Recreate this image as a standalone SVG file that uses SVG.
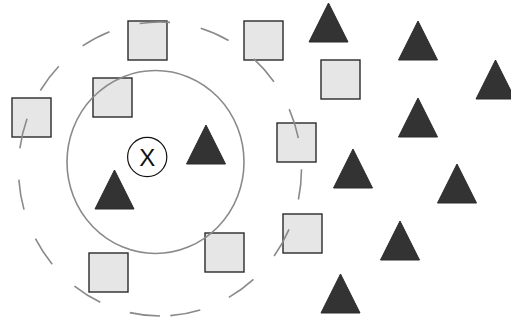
<svg xmlns="http://www.w3.org/2000/svg" width="511" height="320" viewBox="0 0 511 320">
<style>
.sq{fill:#e6e6e6;stroke:#2a2a2a;stroke-width:1.4}
.tri{fill:#333333;stroke:#2a2a2a;stroke-width:1}
.ring{fill:none;stroke:#8a8a8a;stroke-width:1.6}
.dash{stroke-dasharray:30.5 31.3}
.query{fill:#ffffff;stroke:#111111;stroke-width:1.2}
.lbl{font-family:"Liberation Sans",Arial,sans-serif;font-size:24px;fill:#111111;text-anchor:middle}
</style>
<rect width="511" height="320" fill="#ffffff"/>
<g id="squares">
<g id="sq1"><rect class="sq" x="128" y="21" width="39" height="39"/></g>
<g id="sq2"><rect class="sq" x="244" y="21" width="39" height="39"/></g>
<g id="sq3"><rect class="sq" x="93" y="78" width="39" height="39"/></g>
<g id="sq4"><rect class="sq" x="12" y="98" width="39" height="39"/></g>
<g id="sq5"><rect class="sq" x="321" y="60" width="39" height="39"/></g>
<g id="sq6"><rect class="sq" x="277" y="123" width="39" height="39"/></g>
<g id="sq7"><rect class="sq" x="283" y="214" width="39" height="39"/></g>
<g id="sq8"><rect class="sq" x="205" y="233" width="39" height="39"/></g>
<g id="sq9"><rect class="sq" x="89" y="253" width="39" height="39"/></g>
</g>
<g id="triangles">
<g id="tri1"><polygon class="tri" points="328.5,3 348,42 309,42"/></g>
<g id="tri2"><polygon class="tri" points="418,21 437.5,60 398.5,60"/></g>
<g id="tri3"><polygon class="tri" points="495.5,60 515,99 476,99"/></g>
<g id="tri4"><polygon class="tri" points="418,98 437.5,137 398.5,137"/></g>
<g id="tri5"><polygon class="tri" points="353,149 372.5,188 333.5,188"/></g>
<g id="tri6"><polygon class="tri" points="457,164 476.5,203 437.5,203"/></g>
<g id="tri7"><polygon class="tri" points="400,221 419.5,260 380.5,260"/></g>
<g id="tri8"><polygon class="tri" points="340.5,274 360,313 321,313"/></g>
<g id="tri9"><polygon class="tri" points="206,125 225.5,164 186.5,164"/></g>
<g id="tri10"><polygon class="tri" points="114.5,170 134,209 95,209"/></g>
</g>
<g id="connectors">
<ellipse id="inner-ring" class="ring" cx="155.5" cy="162" rx="88.5" ry="91.5"/>
<path id="outer-ring" class="ring dash" d="M160,316 A141.5,147 0 1 1 160,22 A141.5,147 0 1 1 160,316"/>
</g>
<g id="query">
<circle class="query" cx="147.2" cy="157" r="19.6"/>
<text class="lbl" x="147.2" y="165.5">X</text>
</g>
</svg>
